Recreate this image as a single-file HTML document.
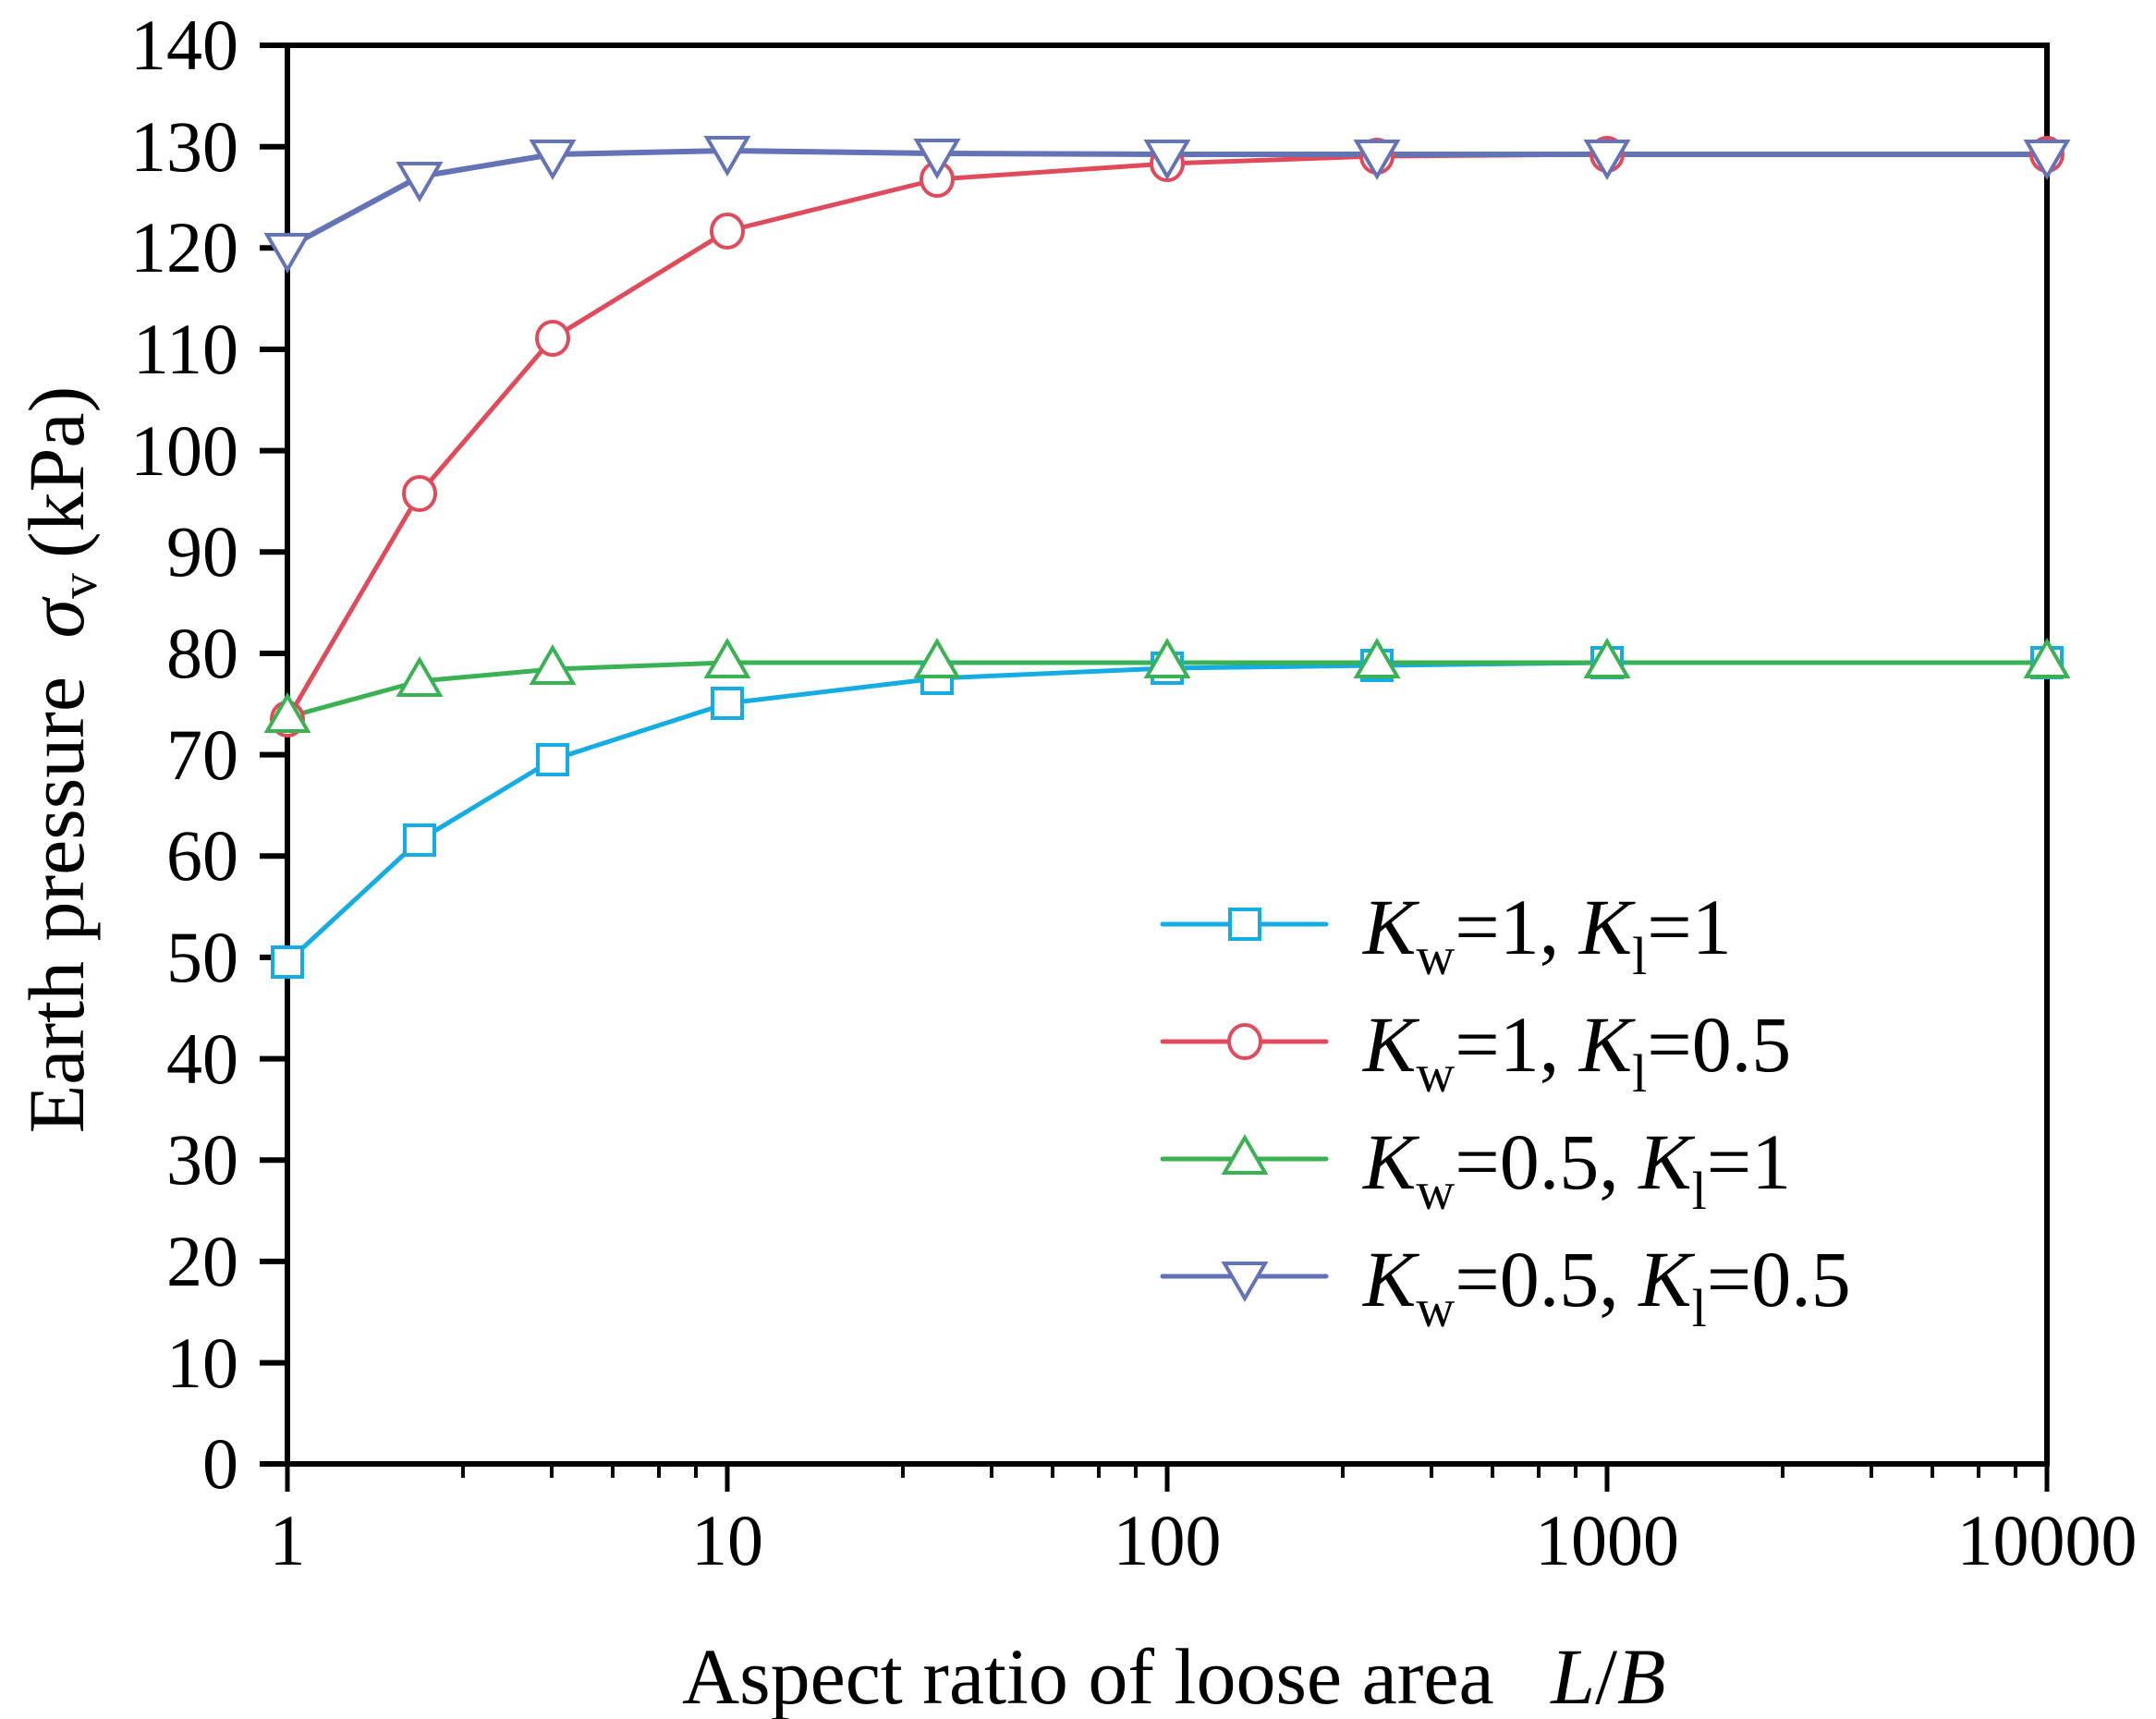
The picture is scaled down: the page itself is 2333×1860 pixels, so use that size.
<!DOCTYPE html>
<html><head><meta charset="utf-8"><style>
html,body{margin:0;padding:0;background:#fff;}
svg{display:block;}
text{font-family:"Liberation Serif",serif;fill:#000;}
</style></head><body>
<svg width="2333" height="1860" viewBox="0 0 2333 1860" xmlns="http://www.w3.org/2000/svg">
<defs>
<symbol id="sq" overflow="visible"><rect x="-16" y="-16" width="32" height="32" fill="#fff" stroke="#13ace3" stroke-width="4"/></symbol>
<symbol id="ci" overflow="visible"><ellipse cx="0" cy="0" rx="17" ry="18" fill="#fff" stroke="#df4b5b" stroke-width="4"/></symbol>
<symbol id="tu" overflow="visible"><polygon points="0,-23 -22,15 22,15" fill="#fff" stroke="#3ab152" stroke-width="4" stroke-linejoin="miter"/></symbol>
<symbol id="td" overflow="visible"><polygon points="-22,-14 22,-14 0,24" fill="#fff" stroke="#6472b6" stroke-width="4"/></symbol>
</defs>

<!-- axes frame -->
<g stroke="#000" stroke-width="6" fill="none">
<rect x="311" y="49" width="1904" height="1535"/>
</g>
<!-- y ticks -->
<g stroke="#000" stroke-width="6">
<line x1="281" y1="49" x2="311" y2="49"/>
<line x1="281" y1="158.7" x2="311" y2="158.7"/>
<line x1="281" y1="268.3" x2="311" y2="268.3"/>
<line x1="281" y1="378" x2="311" y2="378"/>
<line x1="281" y1="487.6" x2="311" y2="487.6"/>
<line x1="281" y1="597.3" x2="311" y2="597.3"/>
<line x1="281" y1="707" x2="311" y2="707"/>
<line x1="281" y1="816.6" x2="311" y2="816.6"/>
<line x1="281" y1="926.3" x2="311" y2="926.3"/>
<line x1="281" y1="1035.9" x2="311" y2="1035.9"/>
<line x1="281" y1="1145.6" x2="311" y2="1145.6"/>
<line x1="281" y1="1255.3" x2="311" y2="1255.3"/>
<line x1="281" y1="1364.9" x2="311" y2="1364.9"/>
<line x1="281" y1="1474.6" x2="311" y2="1474.6"/>
<line x1="281" y1="1584" x2="311" y2="1584"/>
</g>
<!-- x ticks -->
<g stroke="#000" stroke-width="5">
<line x1="311" y1="1584" x2="311" y2="1614"/>
<line x1="787" y1="1584" x2="787" y2="1614"/>
<line x1="1263" y1="1584" x2="1263" y2="1614"/>
<line x1="1739" y1="1584" x2="1739" y2="1614"/>
<line x1="2215" y1="1584" x2="2215" y2="1614"/>
<g stroke-width="4">
<line x1="501" y1="1584" x2="501" y2="1599"/><line x1="597" y1="1584" x2="597" y2="1599"/><line x1="663" y1="1584" x2="663" y2="1599"/><line x1="713" y1="1584" x2="713" y2="1599"/><line x1="753" y1="1584" x2="753" y2="1599"/>
<line x1="977" y1="1584" x2="977" y2="1599"/><line x1="1073" y1="1584" x2="1073" y2="1599"/><line x1="1139" y1="1584" x2="1139" y2="1599"/><line x1="1189" y1="1584" x2="1189" y2="1599"/><line x1="1229" y1="1584" x2="1229" y2="1599"/>
<line x1="1453" y1="1584" x2="1453" y2="1599"/><line x1="1549" y1="1584" x2="1549" y2="1599"/><line x1="1615" y1="1584" x2="1615" y2="1599"/><line x1="1665" y1="1584" x2="1665" y2="1599"/><line x1="1705" y1="1584" x2="1705" y2="1599"/>
<line x1="1929" y1="1584" x2="1929" y2="1599"/><line x1="2025" y1="1584" x2="2025" y2="1599"/><line x1="2091" y1="1584" x2="2091" y2="1599"/><line x1="2141" y1="1584" x2="2141" y2="1599"/><line x1="2181" y1="1584" x2="2181" y2="1599"/>
</g>
</g>

<!-- y tick labels -->
<g font-size="78" text-anchor="end">
<text x="258" y="75">140</text>
<text x="258" y="185">130</text>
<text x="258" y="294">120</text>
<text x="258" y="404">110</text>
<text x="258" y="514">100</text>
<text x="258" y="623">90</text>
<text x="258" y="733">80</text>
<text x="258" y="843">70</text>
<text x="258" y="952">60</text>
<text x="258" y="1062">50</text>
<text x="258" y="1172">40</text>
<text x="258" y="1281">30</text>
<text x="258" y="1391">20</text>
<text x="258" y="1501">10</text>
<text x="258" y="1610">0</text>
</g>
<!-- x tick labels -->
<g font-size="78" text-anchor="middle">
<text x="311" y="1693">1</text>
<text x="787" y="1693">10</text>
<text x="1263" y="1693">100</text>
<text x="1739" y="1693">1000</text>
<text x="2215" y="1693">10000</text>
</g>

<!-- axis titles -->
<text x="738" y="1843" font-size="86">Aspect ratio of loose area <tspan dx="40" font-style="italic">L</tspan><tspan>/</tspan><tspan font-style="italic">B</tspan></text>
<text transform="translate(90,822) rotate(-90)" text-anchor="middle" font-size="86">Earth pressure <tspan dx="20" font-style="italic">σ</tspan><tspan font-size="56" dy="14">v</tspan><tspan dy="-14" dx="16">(kPa)</tspan></text>

<!-- series lines -->
<g fill="none" stroke-width="5" stroke-linejoin="round">
<polyline stroke="#13ace3" points="311,1041 454,909 598,822 787,761 1014,734 1263,723 1490,720 1739,717 2215,717"/>
<polyline stroke="#df4b5b" points="311,778 454,534 598,366 787,250 1014,194 1263,177 1490,169 1739,167 2215,167"/>
<polyline stroke="#3ab152" points="311,776 454,737 598,724 787,717 1014,717 1263,717 1490,717 1739,717 2215,717"/>
<polyline stroke="#6472b6" stroke-width="6" points="311,268 454,191 598,167 787,163 1014,166 1263,167 1490,167 1739,167 2215,167"/>
</g>
<!-- markers -->
<g>
<use href="#sq" x="311" y="1041"/><use href="#sq" x="454" y="909"/><use href="#sq" x="598" y="822"/><use href="#sq" x="787" y="761"/><use href="#sq" x="1014" y="734"/><use href="#sq" x="1263" y="723"/><use href="#sq" x="1490" y="720"/><use href="#sq" x="1739" y="717"/><use href="#sq" x="2215" y="717"/>
<use href="#ci" x="311" y="778"/><use href="#ci" x="454" y="534"/><use href="#ci" x="598" y="366"/><use href="#ci" x="787" y="250"/><use href="#ci" x="1014" y="194"/><use href="#ci" x="1263" y="177"/><use href="#ci" x="1490" y="169"/><use href="#ci" x="1739" y="167"/><use href="#ci" x="2215" y="167"/>
<use href="#tu" x="311" y="776"/><use href="#tu" x="454" y="737"/><use href="#tu" x="598" y="724"/><use href="#tu" x="787" y="717"/><use href="#tu" x="1014" y="717"/><use href="#tu" x="1263" y="717"/><use href="#tu" x="1490" y="717"/><use href="#tu" x="1739" y="717"/><use href="#tu" x="2215" y="717"/>
<use href="#td" x="311" y="268"/><use href="#td" x="454" y="191"/><use href="#td" x="598" y="167"/><use href="#td" x="787" y="163"/><use href="#td" x="1014" y="166"/><use href="#td" x="1263" y="167"/><use href="#td" x="1490" y="167"/><use href="#td" x="1739" y="167"/><use href="#td" x="2215" y="167"/>
</g>

<!-- legend -->
<g stroke-width="5" stroke-linecap="round">
<line x1="1258" y1="1000" x2="1435" y2="1000" stroke="#13ace3"/>
<line x1="1258" y1="1127" x2="1435" y2="1127" stroke="#df4b5b"/>
<line x1="1258" y1="1254" x2="1435" y2="1254" stroke="#3ab152"/>
<line x1="1258" y1="1381" x2="1435" y2="1381" stroke="#6472b6"/>
</g>
<use href="#sq" x="1347" y="1000"/>
<use href="#ci" x="1347" y="1127"/>
<use href="#tu" x="1347" y="1254"/>
<use href="#td" x="1347" y="1381"/>
<g font-size="86">
<text x="1475" y="1032"><tspan font-style="italic">K</tspan><tspan font-size="58" dy="22">w</tspan><tspan dy="-22">=1, </tspan><tspan font-style="italic">K</tspan><tspan font-size="58" dy="22">l</tspan><tspan dy="-22">=1</tspan></text>
<text x="1475" y="1159"><tspan font-style="italic">K</tspan><tspan font-size="58" dy="22">w</tspan><tspan dy="-22">=1, </tspan><tspan font-style="italic">K</tspan><tspan font-size="58" dy="22">l</tspan><tspan dy="-22">=0.5</tspan></text>
<text x="1475" y="1286"><tspan font-style="italic">K</tspan><tspan font-size="58" dy="22">w</tspan><tspan dy="-22">=0.5, </tspan><tspan font-style="italic">K</tspan><tspan font-size="58" dy="22">l</tspan><tspan dy="-22">=1</tspan></text>
<text x="1475" y="1413"><tspan font-style="italic">K</tspan><tspan font-size="58" dy="22">w</tspan><tspan dy="-22">=0.5, </tspan><tspan font-style="italic">K</tspan><tspan font-size="58" dy="22">l</tspan><tspan dy="-22">=0.5</tspan></text>
</g>
</svg>
</body></html>
